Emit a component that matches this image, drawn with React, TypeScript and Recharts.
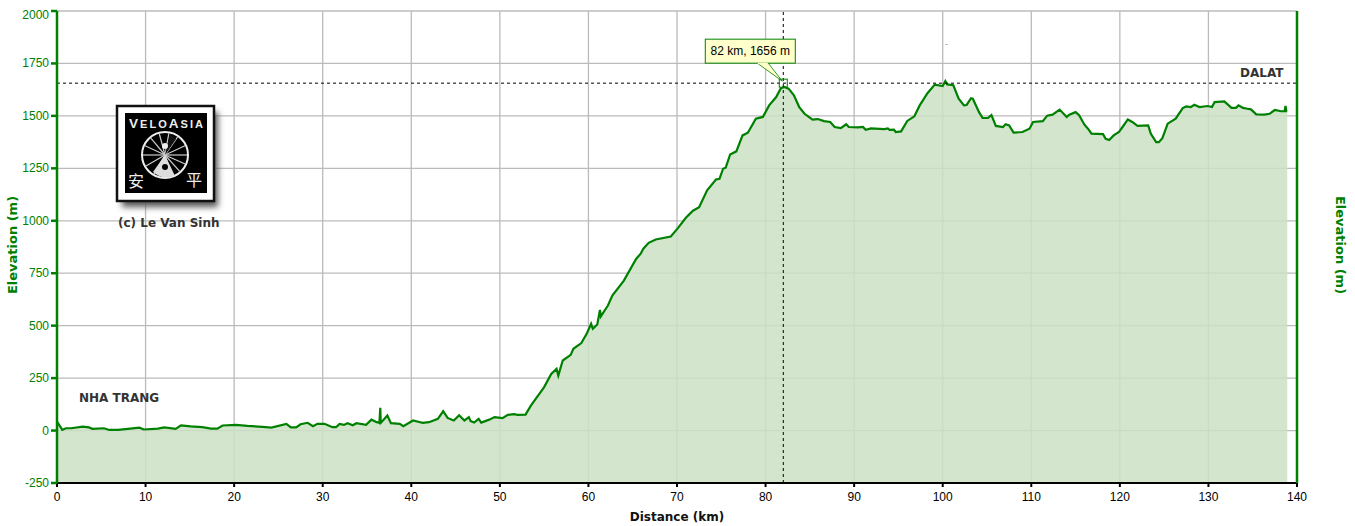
import {
  ComposedChart,
  Area,
  XAxis,
  YAxis,
  CartesianGrid,
  ReferenceLine,
  ReferenceDot,
} from 'recharts';

// Distance (km) and elevation (m)
const distance = [
  0, 0.05, 0.6, 1, 1.6, 2.9, 3.6, 4, 5.3, 5.9, 6.9, 8, 9.3, 9.8, 11.4, 12.1, 13.4, 14, 15.1, 16.4,
  17.4, 18.1, 18.7, 20.2, 21.5, 23.2, 24.2, 25.9, 26.4, 27, 27.5, 28.3, 28.9, 29.4, 30.2, 31.1, 31.5, 31.9, 32.4, 32.8,
  33.4, 33.8, 34.9, 35.5, 36.1, 36.4, 36.5, 36.55, 36.8, 37.3, 37.7, 38.7, 39.1, 40.2, 40.9, 41.3, 42, 43, 43.6, 44.1,
  44.8, 45.4, 46, 46.5, 46.7, 47.1, 47.6, 47.9, 48.8, 49.4, 50.3, 50.9, 51.6, 52, 52.9, 53.5, 55, 55.8, 56.4, 56.6,
  57.1, 58, 58.3, 59.2, 59.8, 60.3, 60.5, 61, 61.3, 61.4, 62.2, 62.7, 64, 65.4, 65.9, 66.2, 66.8, 67.6, 69.3, 70.1,
  71, 71.8, 72.5, 73.4, 74.4, 74.8, 75.2, 75.5, 76, 76.7, 77.4, 78, 78.9, 79.7, 80.4, 81.2, 81.7, 82.1, 82.6, 83.2,
  83.8, 84.4, 85.3, 85.9, 86.6, 87.3, 87.8, 88.5, 89.1, 89.4, 90.4, 91, 91.3, 91.9, 93.4, 93.8, 94, 94.5, 94.7, 95.3,
  96, 96.8, 97.4, 98.3, 99.1, 100, 100.3, 100.5, 101.2, 101.8, 102.4, 102.7, 103.2, 103.4, 104.1, 104.5, 105.1, 105.5, 106, 106.8,
  107.1, 107.5, 108, 109, 109.8, 110.2, 111.3, 111.8, 112.4, 113.2, 114, 114.3, 115, 115.4, 116, 116.4, 116.8, 118.1, 118.4, 118.8,
  119.3, 119.9, 120.3, 120.9, 121.4, 122, 123.2, 123.5, 124.1, 124.4, 124.8, 125.4, 126.3, 127.1, 127.5, 128, 128.4, 129, 129.9, 130.4,
  130.7, 131.8, 132.6, 133.1, 133.4, 133.9, 134.4, 134.8, 135.4, 136.3, 136.9, 137.5, 138.2, 138.6, 138.7, 138.8, 138.9,
];
const elevation = [
  20, 40, 3, 11, 11, 19, 15, 8, 11, 3, 3, 8, 14, 5, 9, 15, 8, 25, 20, 16,
  9, 9, 24, 27, 22, 18, 14, 32, 15, 15, 30, 37, 21, 32, 32, 16, 16, 32, 27, 35,
  25, 35, 27, 52, 40, 37, 108, 37, 48, 72, 35, 32, 21, 48, 41, 37, 40, 56, 92, 60,
  48, 73, 48, 64, 45, 38, 56, 38, 52, 64, 59, 75, 78, 75, 76, 119, 207, 270, 294, 262,
  334, 361, 390, 417, 461, 509, 485, 506, 575, 544, 596, 644, 715, 819, 843, 867, 895, 911, 925, 965,
  1014, 1048, 1065, 1145, 1197, 1200, 1248, 1253, 1316, 1331, 1407, 1420, 1487, 1495, 1550, 1590, 1630, 1638, 1630, 1598,
  1542, 1510, 1482, 1485, 1475, 1471, 1447, 1442, 1460, 1447, 1445, 1447, 1434, 1440, 1437, 1440, 1433, 1434, 1423, 1426,
  1476, 1498, 1550, 1609, 1649, 1642, 1666, 1650, 1646, 1582, 1550, 1552, 1584, 1582, 1518, 1490, 1490, 1504, 1452, 1447,
  1460, 1455, 1420, 1423, 1439, 1471, 1475, 1501, 1506, 1530, 1495, 1506, 1518, 1503, 1458, 1439, 1415, 1413, 1391, 1385,
  1407, 1423, 1447, 1483, 1471, 1452, 1455, 1415, 1375, 1375, 1394, 1463, 1487, 1537, 1545, 1542, 1553, 1542, 1547, 1542,
  1566, 1569, 1538, 1538, 1550, 1538, 1534, 1531, 1507, 1506, 1510, 1528, 1522, 1522, 1547, 1522, 1522,
];
const xTicks = [0, 10, 20, 30, 40, 50, 60, 70, 80, 90, 100, 110, 120, 130, 140];
const yTicks = [-250, 0, 250, 500, 750, 1000, 1250, 1500, 1750, 2000];
const cursorKm = 82;
const cursorElevation = 1656;
const cursorText = '82 km, 1656 m';

const profile = distance.map((km, i) => ({ km, elevation: elevation[i] }));

const GREEN = '#008000';
const FONT = '"Liberation Sans", Arial, sans-serif';
const BOLD_FONT = '"DejaVu Sans", Verdana, sans-serif';

// The top label sits below its tick in the original, so it stays inside the frame
const ElevationTick = ({ x, y, payload, textAnchor }: any) => (
  <text
    x={x}
    y={y + (payload.value === 2000 ? 8 : 4)}
    textAnchor={textAnchor}
    fill={GREEN}
    fontFamily={FONT}
    fontSize={12}
  >
    {payload.value}
  </text>
);

const SideTitle = ({ posX, turn }: any) => (
  <text
    transform={`translate(${posX}, 245) rotate(${turn})`}
    textAnchor="middle"
    dominantBaseline="middle"
    fill={GREEN}
    fontFamily={BOLD_FONT}
    fontWeight={700}
    fontSize={13}
  >
    Elevation (m)
  </text>
);

// Small square on the curve, with the yellow callout above it
const CursorMarker = ({ cx, cy }: any) => (
  <g>
    <path
      d={`M ${cx - 26} ${cy - 20} L ${cx - 1} ${cy - 2} L ${cx - 15} ${cy - 20}`}
      fill="#ffffcc"
      stroke={GREEN}
      strokeWidth={0.8}
    />
    <rect x={cx - 78} y={cy - 44} width={90} height={24} fill="#ffffcc" stroke={GREEN} strokeWidth={1} />
    <rect x={cx - 25.5} y={cy - 20.5} width={10} height={1.5} fill="#ffffcc" />
    <text x={cx - 33} y={cy - 28} textAnchor="middle" fontFamily={FONT} fontSize={12} fill="#000">
      {cursorText}
    </text>
    <rect x={cx - 4} y={cy - 4} width={8} height={8} fill="none" stroke={GREEN} strokeWidth={1} />
  </g>
);

const spokes = [0, 24, 48, 72, 96, 120, 150, 180, 205, 230, 255, 280, 305, 335];

const Logo = () => (
  <svg
    width={125}
    height={125}
    style={{ position: 'absolute', left: 110, top: 100 }}
    viewBox="110 100 125 125"
  >
    <defs>
      <filter id="logoShadow" x="-20%" y="-20%" width="150%" height="150%">
        <feGaussianBlur stdDeviation="3" />
      </filter>
    </defs>
    <rect x={122} y={112} width={96} height={95} fill="#555" filter="url(#logoShadow)" />
    <rect x={117} y={106} width={97} height={95} fill="#fff" stroke="#111" strokeWidth={2.5} />
    <rect x={125} y={113} width={82} height={80} fill="#000" />
    <text x={166} y={128} textAnchor="middle" fontFamily={FONT} fontWeight={700} fill="#eee" textLength={74}>
      <tspan fontSize={13.5}>V</tspan>
      <tspan fontSize={11}>ELO</tspan>
      <tspan fontSize={13.5}>A</tspan>
      <tspan fontSize={11}>SIA</tspan>
    </text>
    <circle cx={165} cy={155} r={23} fill="none" stroke="#eee" strokeWidth={2} />
    {spokes.map((a) => (
      <line
        key={a}
        x1={165}
        y1={155}
        x2={165 + 22 * Math.cos((a * Math.PI) / 180)}
        y2={155 + 22 * Math.sin((a * Math.PI) / 180)}
        stroke="#ccc"
        strokeWidth={1.2}
      />
    ))}
    <path d="M 165 155 L 175 176 A 22 22 0 0 1 153 172 Z" fill="#ddd" />
    <path d="M 165 155 L 176 139 L 170 134 Z" fill="#111" />
    <circle cx={165} cy={146} r={3} fill="#eee" />
    <circle cx={165} cy={167} r={3} fill="#000" />
    <text x={136} y={187} textAnchor="middle" fontFamily='"Noto Sans CJK SC"' fontSize={16} fill="#eee">
      安
    </text>
    <text x={194} y={186} textAnchor="middle" fontFamily='"Noto Sans CJK SC"' fontSize={16} fill="#eee">
      平
    </text>
  </svg>
);

const noteStyle = {
  position: 'absolute' as const,
  fontFamily: BOLD_FONT,
  fontWeight: 700,
  fontSize: 12,
  lineHeight: '14px',
  color: '#333',
  whiteSpace: 'nowrap' as const,
};

export default function App() {
  return (
    <div style={{ position: 'absolute', left: 0, top: 0, width: 1355, height: 526, background: '#fff' }}>
      <ComposedChart
        width={1355}
        height={526}
        data={profile}
        margin={{ top: 11, right: 0, bottom: 13, left: 0 }}
      >
        <CartesianGrid
          yAxisId="left"
          stroke="#bbbbbb"
          strokeWidth={1.3}
          horizontalValues={yTicks}
          verticalValues={xTicks}
        />
        <XAxis
          type="number"
          dataKey="km"
          domain={[0, 140]}
          ticks={xTicks}
          interval={0}
          height={30}
          stroke="#000"
          strokeWidth={2}
          tickSize={4}
          tickMargin={5}
          tick={{ fill: '#000', fontFamily: FONT, fontSize: 12 }}
          label={{
            value: 'Distance (km)',
            position: 'insideBottom',
            offset: -8,
            fill: '#111',
            fontFamily: BOLD_FONT,
            fontWeight: 700,
            fontSize: 12,
          }}
        />
        <YAxis
          yAxisId="left"
          domain={[-250, 2000]}
          ticks={yTicks}
          interval={0}
          width={57}
          stroke={GREEN}
          strokeWidth={2.5}
          tickSize={6}
          tickMargin={2}
          tick={<ElevationTick />}
          label={<SideTitle posX={13} turn={-90} />}
        />
        <YAxis
          yAxisId="right"
          orientation="right"
          domain={[-250, 2000]}
          ticks={yTicks}
          interval={0}
          width={58}
          stroke={GREEN}
          strokeWidth={2.5}
          tickSize={6}
          tickMargin={0}
          tick={<ElevationTick />}
          label={<SideTitle posX={1339} turn={90} />}
        />
        <Area
          yAxisId="left"
          type="linear"
          dataKey="elevation"
          baseValue={-250}
          stroke={GREEN}
          strokeWidth={2.2}
          fill="#cbe2c4"
          fillOpacity={0.85}
          dot={false}
          activeDot={false}
          isAnimationActive={false}
        />
        <ReferenceLine yAxisId="left" x={cursorKm} stroke="#000" strokeDasharray="3 3" />
        <ReferenceLine yAxisId="left" y={cursorElevation} stroke="#000" strokeDasharray="3 3" />
        <ReferenceDot yAxisId="left" x={cursorKm} y={cursorElevation} shape={<CursorMarker />} />
      </ComposedChart>
      <Logo />
      <div style={{ ...noteStyle, left: 118, top: 216 }}>(c) Le Van Sinh</div>
      <div style={{ ...noteStyle, left: 79, top: 391 }}>NHA TRANG</div>
      <div style={{ ...noteStyle, left: 1240, top: 66 }}>DALAT</div>
      <div style={{ position: 'absolute', left: 945, top: 44, width: 3, height: 1, background: '#d8b0b0' }} />
    </div>
  );
}
